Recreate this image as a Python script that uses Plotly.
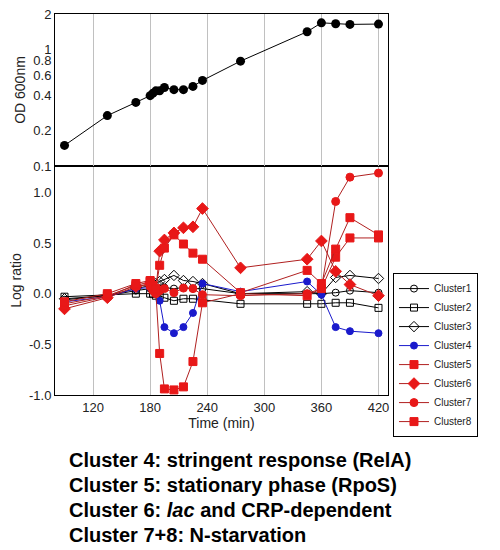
import plotly.graph_objects as go

times = [90, 135, 165, 180, 183, 186, 190, 195, 205, 215, 225, 235, 275, 345, 360, 375, 390, 420]
od600 = [0.15, 0.27, 0.35, 0.40, 0.42, 0.44, 0.44, 0.47, 0.45, 0.45, 0.48, 0.54, 0.79, 1.41, 1.68, 1.65, 1.63, 1.64]

cluster1 = [-0.06, -0.02, 0.03, 0.05, 0.04, 0.03, 0.05, 0.06, 0.05, 0.06, 0.05, 0.05, 0.00, 0.00, 0.00, 0.01, 0.03, 0.01]
cluster2 = [-0.03, -0.01, 0.00, 0.00, 0.00, -0.02, -0.02, -0.04, -0.07, -0.05, -0.05, -0.06, -0.10, -0.10, -0.10, -0.09, -0.09, -0.14]
cluster3 = [-0.05, -0.02, 0.05, 0.08, 0.10, 0.10, 0.12, 0.14, 0.18, 0.13, 0.12, 0.10, 0.00, 0.02, 0.00, 0.16, 0.18, 0.15]
cluster4 = [-0.08, -0.03, 0.05, 0.06, 0.04, 0.02, -0.07, -0.33, -0.39, -0.33, -0.19, 0.10, 0.02, 0.12, -0.01, -0.33, -0.37, -0.39]
cluster5 = [-0.10, -0.02, 0.08, 0.12, 0.05, 0.02, -0.59, -0.94, -0.95, -0.92, -0.67, -0.09, 0.00, -0.02, 0.05, 0.36, 0.55, 0.55]
cluster6 = [-0.15, -0.04, 0.07, 0.10, 0.05, 0.03, 0.42, 0.53, 0.60, 0.65, 0.66, 0.84, 0.255, 0.34, 0.52, 0.22, 0.09, -0.02]
cluster7 = [-0.12, -0.03, 0.09, 0.07, 0.03, 0.00, 0.03, 0.05, 0.01, 0.055, 0.05, -0.01, -0.02, 0.00, 0.05, 0.91, 1.15, 1.19]
cluster8 = [-0.08, 0.00, 0.10, 0.13, 0.08, 0.05, 0.28, 0.45, 0.58, 0.49, 0.40, 0.34, 0.01, 0.23, 0.10, 0.44, 0.75, 0.58]

cluster_names = ["Cluster1", "Cluster2", "Cluster3", "Cluster4", "Cluster5", "Cluster6", "Cluster7", "Cluster8"]
x_ticks = [120, 180, 240, 300, 360, 420]
od_ticks = [0.1, 0.2, 0.4, 0.6, 0.8, 1, 2]
od_ticktext = ["0.1", "0.2", "0.4", "0.6", "0.8", "1", "2"]
lr_ticks = [-1.0, -0.5, 0.0, 0.5, 1.0]
lr_ticktext = ["-1.0", "-0.5", "0.0", "0.5", "1.0"]
notes = [
    "<b>Cluster 4: stringent response (RelA)</b>",
    "<b>Cluster 5: stationary phase (RpoS)</b>",
    "<b>Cluster 6: <i>lac</i> and CRP-dependent</b>",
    "<b>Cluster 7+8: N-starvation</b>",
]

RED = "#e81818"
REDLINE = "#b02020"
BLUE = "#1a1acc"

styles = [
    dict(symbol="circle-open", color="black", line="black", size=7),
    dict(symbol="square-open", color="black", line="black", size=7),
    dict(symbol="diamond-open", color="black", line="black", size=8),
    dict(symbol="circle", color=BLUE, line=BLUE, size=7),
    dict(symbol="square", color=RED, line=REDLINE, size=8),
    dict(symbol="diamond", color=RED, line=REDLINE, size=9),
    dict(symbol="circle", color=RED, line=REDLINE, size=8),
    dict(symbol="square", color=RED, line=REDLINE, size=8),
]
series = [cluster1, cluster2, cluster3, cluster4, cluster5, cluster6, cluster7, cluster8]

fig = go.Figure()

fig.add_trace(go.Scatter(
    x=times, y=od600, mode="lines+markers", xaxis="x2", yaxis="y2",
    line=dict(color="black", width=1),
    marker=dict(symbol="circle", size=9, color="black"),
    showlegend=False,
))

for name, vals, st in zip(cluster_names, series, styles):
    fig.add_trace(go.Scatter(
        x=times, y=vals, mode="lines+markers", name=name,
        line=dict(color=st["line"], width=1),
        marker=dict(symbol=st["symbol"], size=st["size"], color=st["color"],
                    line=dict(color=st["color"], width=1)),
    ))

FONT = "Liberation Sans, Arial, sans-serif"
axis_font = dict(family=FONT, size=13, color="#222")
title_font = dict(family=FONT, size=14, color="#222")
split = 229 / 381

fig.update_layout(
    width=500, height=550,
    margin=dict(l=55, r=112, t=14, b=155),
    paper_bgcolor="white", plot_bgcolor="white",
    font=dict(family=FONT, color="#222"),
    xaxis=dict(range=[80, 430], domain=[0, 1], anchor="y", automargin=False,
               tickvals=x_ticks, tickfont=axis_font,
               showgrid=True, gridcolor="#c0c0c0", gridwidth=1,
               showline=True, linecolor="black", linewidth=1, mirror=True,
               zeroline=False, ticks="",
               title=dict(text="Time (min)", font=title_font, standoff=2)),
    yaxis=dict(range=[-1.0, 1.26], domain=[0, split], anchor="x", automargin=False,
               tickvals=lr_ticks, ticktext=lr_ticktext, tickfont=axis_font,
               showgrid=False, zeroline=False,
               showline=True, linecolor="black", linewidth=1, mirror=True, ticks="",
               title=dict(text="Log ratio", font=title_font, standoff=4)),
    xaxis2=dict(range=[80, 430], domain=[0, 1], anchor="y2", automargin=False,
                tickvals=x_ticks, showticklabels=False,
                showgrid=True, gridcolor="#c0c0c0", gridwidth=1,
                showline=True, linecolor="black", linewidth=1, mirror=True,
                zeroline=False, ticks=""),
    yaxis2=dict(type="log", range=[-1, 0.301], domain=[split, 1], anchor="x2", automargin=False,
                tickvals=od_ticks, ticktext=od_ticktext, tickfont=axis_font,
                showgrid=False, zeroline=False,
                showline=True, linecolor="black", linewidth=1, mirror=True, ticks="",
                title=dict(text="OD 600nm", font=title_font, standoff=4)),
    legend=dict(x=1.015, y=0.32, xanchor="left", yanchor="top",
                bordercolor="black", borderwidth=1, bgcolor="white",
                font=dict(family=FONT, size=10, color="#222"),
                tracegroupgap=0, itemwidth=30),
)

for i, txt in enumerate(notes):
    fig.add_annotation(
        text=txt, xref="paper", yref="paper",
        x=(67 - 55) / 333, y=(395 - (460 + 25 * i)) / 381,
        xanchor="left", yanchor="middle", showarrow=False,
        font=dict(family=FONT, size=20, color="black"),
    )

fig.write_html("out.html", config={"displayModeBar": False},
               post_script="document.body.style.margin='0';document.body.style.overflow='hidden';")
